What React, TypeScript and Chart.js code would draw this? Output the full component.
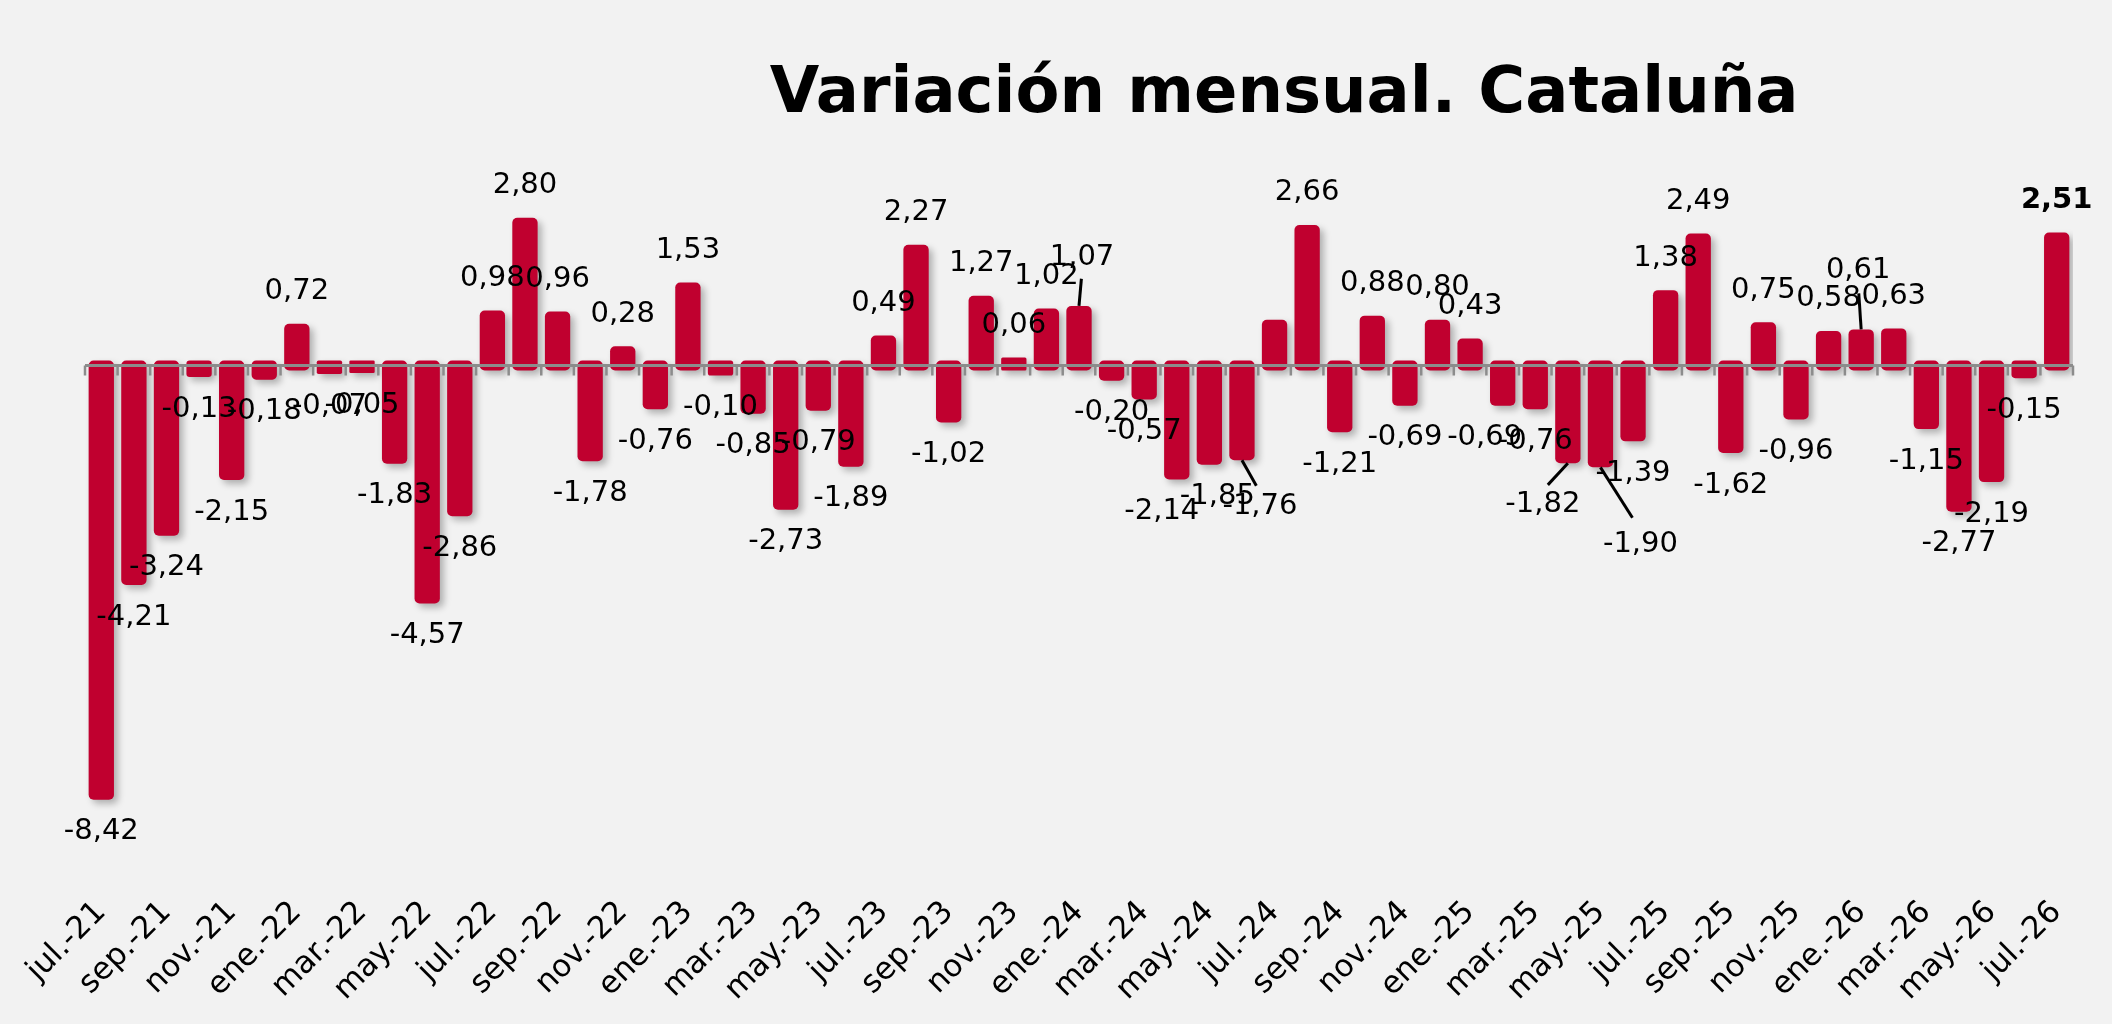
import React, { useEffect, useRef } from 'react';
import { Chart, registerables, Plugin } from 'chart.js';

Chart.register(...registerables);

// Meses (jul.-21 … jul.-26)
const months = [
  'jul.-21', 'ago.-21', 'sep.-21', 'oct.-21', 'nov.-21', 'dic.-21',
  'ene.-22', 'feb.-22', 'mar.-22', 'abr.-22', 'may.-22', 'jun.-22',
  'jul.-22', 'ago.-22', 'sep.-22', 'oct.-22', 'nov.-22', 'dic.-22',
  'ene.-23', 'feb.-23', 'mar.-23', 'abr.-23', 'may.-23', 'jun.-23',
  'jul.-23', 'ago.-23', 'sep.-23', 'oct.-23', 'nov.-23', 'dic.-23',
  'ene.-24', 'feb.-24', 'mar.-24', 'abr.-24', 'may.-24', 'jun.-24',
  'jul.-24', 'ago.-24', 'sep.-24', 'oct.-24', 'nov.-24', 'dic.-24',
  'ene.-25', 'feb.-25', 'mar.-25', 'abr.-25', 'may.-25', 'jun.-25',
  'jul.-25', 'ago.-25', 'sep.-25', 'oct.-25', 'nov.-25', 'dic.-25',
  'ene.-26', 'feb.-26', 'mar.-26', 'abr.-26', 'may.-26', 'jun.-26',
  'jul.-26',
];

// Variación mensual (%)
const variation = [
  -8.42, -4.21, -3.24, -0.13, -2.15, -0.18,
  0.72, -0.07, -0.05, -1.83, -4.57, -2.86,
  0.98, 2.80, 0.96, -1.78, 0.28, -0.76,
  1.53, -0.10, -0.85, -2.73, -0.79, -1.89,
  0.49, 2.27, -1.02, 1.27, 0.06, 1.02,
  1.07, -0.20, -0.57, -2.14, -1.85, -1.76,
  0.80, 2.66, -1.21, 0.88, -0.69, 0.80,
  0.43, -0.69, -0.76, -1.82, -1.90, -1.39,
  1.38, 2.49, -1.62, 0.75, -0.96, 0.58,
  0.61, 0.63, -1.15, -2.77, -2.19, -0.15,
  2.51,
];

// bars shown without a value label, and the highlighted last value
const unlabeled = [36];
const boldLabels = [60];

// labels that were dragged aside in the original: [dx, dy, leader line]
const labelNudges: Record<number, [number, number, boolean]> = {
  30: [3, -16, true],
  33: [-15, 0, false],
  34: [8, 0, false],
  35: [18, 14, true],
  43: [-18, 0, false],
  45: [-25, 9, true],
  46: [40, 45, true],
  54: [-3, -27, true],
};

const TITLE = 'Variación mensual. Cataluña';
const BAR_COLOR = '#C0002F';
const BG = '#F2F2F2';
const FONT = '"DejaVu Sans", Verdana, sans-serif';
const INFLATE = 5;

const fmt = (v: number) => v.toFixed(2).replace('.', ',');

const backgroundPlugin: Plugin<'bar'> = {
  id: 'bg',
  beforeDraw(chart) {
    const { ctx, width, height } = chart;
    ctx.save();
    ctx.fillStyle = BG;
    ctx.fillRect(0, 0, width, height);
    ctx.restore();
  },
};

const titlePlugin: Plugin<'bar'> = {
  id: 'customTitle',
  afterDraw(chart) {
    const { ctx, width } = chart;
    ctx.save();
    ctx.fillStyle = '#000';
    ctx.font = `bold 64px ${FONT}`;
    ctx.textAlign = 'center';
    ctx.textBaseline = 'alphabetic';
    ctx.fillText(TITLE, width * 0.608, 112);
    ctx.restore();
  },
};

const shadowPlugin: Plugin<'bar'> = {
  id: 'barShadow',
  beforeDatasetsDraw(chart) {
    const { ctx } = chart;
    ctx.save();
    ctx.shadowColor = 'rgba(0, 0, 0, 0.28)';
    ctx.shadowBlur = 7;
    ctx.shadowOffsetX = 4;
    ctx.shadowOffsetY = 4;
  },
  afterDatasetsDraw(chart) {
    chart.ctx.restore();
  },
};

// zero line with category tick marks, drawn over the bars
const zeroAxisPlugin: Plugin<'bar'> = {
  id: 'zeroAxis',
  afterDatasetsDraw(chart) {
    const { ctx, chartArea, scales } = chart;
    const x = scales.x;
    const y = scales.y;
    const y0 = y.getPixelForValue(0);
    const step = x.getPixelForValue(1) - x.getPixelForValue(0);
    ctx.save();
    ctx.strokeStyle = '#8C8C8C';
    ctx.lineWidth = 3;
    ctx.beginPath();
    ctx.moveTo(chartArea.left, y0);
    ctx.lineTo(chartArea.right, y0);
    ctx.stroke();
    ctx.lineWidth = 2.5;
    ctx.beginPath();
    for (let i = 0; i <= months.length; i++) {
      const px = x.getPixelForValue(i) - step / 2;
      ctx.moveTo(px, y0);
      ctx.lineTo(px, y0 + 10);
    }
    ctx.stroke();
    ctx.restore();
  },
};

const valueLabelPlugin: Plugin<'bar'> = {
  id: 'valueLabels',
  afterDatasetsDraw(chart) {
    const { ctx } = chart;
    const meta = chart.getDatasetMeta(0);
    ctx.save();
    ctx.fillStyle = '#000';
    ctx.strokeStyle = '#000';
    ctx.lineWidth = 3;
    ctx.textAlign = 'center';
    ctx.textBaseline = 'middle';
    meta.data.forEach((bar: any, i: number) => {
      if (unlabeled.includes(i)) return;
      const v = variation[i];
      const up = v >= 0;
      const [dx, dy, leader] = labelNudges[i] || [0, 0, false];
      const lx = bar.x + dx;
      const ly = (up ? bar.y - 37 : bar.y + 37) + dy;
      if (leader) {
        const endY = up ? bar.y - INFLATE : bar.y + INFLATE;
        const toY = up ? ly + 14 : ly - 14;
        ctx.beginPath();
        ctx.moveTo(bar.x, endY);
        ctx.lineTo(bar.x + (lx - bar.x) * 0.8, endY + (toY - endY) * 0.8);
        ctx.stroke();
      }
      ctx.font = `${boldLabels.includes(i) ? 'bold ' : ''}29px ${FONT}`;
      ctx.fillText(fmt(v), lx, ly);
    });
    ctx.restore();
  },
};

const App: React.FC = () => {
  const canvasRef = useRef<HTMLCanvasElement>(null);
  const chartRef = useRef<Chart<'bar'> | null>(null);

  useEffect(() => {
    document.body.style.margin = '0';
    document.body.style.background = BG;
    if (!canvasRef.current) return;
    const ctx = canvasRef.current.getContext('2d');
    if (!ctx) return;

    chartRef.current = new Chart(ctx, {
      type: 'bar',
      data: {
        labels: months,
        datasets: [
          {
            data: variation,
            backgroundColor: BAR_COLOR,
            borderRadius: 5,
            borderSkipped: false,
            inflateAmount: INFLATE,
            barPercentage: 0.47,
            categoryPercentage: 1,
          },
        ],
      },
      options: {
        responsive: true,
        maintainAspectRatio: false,
        animation: false,
        layout: {
          padding: { left: 85, right: 39, top: 182, bottom: 10 },
        },
        plugins: {
          legend: { display: false },
          tooltip: { enabled: false },
          title: { display: false },
        },
        scales: {
          x: {
            grid: { display: false },
            border: { display: false },
            ticks: {
              autoSkip: false,
              minRotation: 45,
              maxRotation: 45,
              color: '#000',
              padding: 6,
              font: { family: FONT, size: 31 },
              callback: (_val, idx) => (idx % 2 === 0 ? months[idx] : ''),
            },
          },
          y: {
            display: false,
            min: -10.1,
            max: 3.6,
          },
        },
      },
      plugins: [backgroundPlugin, shadowPlugin, zeroAxisPlugin, valueLabelPlugin, titlePlugin],
    });

    return () => {
      chartRef.current?.destroy();
      chartRef.current = null;
    };
  }, []);

  return (
    <div style={{ width: 2112, height: 1024, background: BG }}>
      <canvas ref={canvasRef}></canvas>
    </div>
  );
};

export default App;
